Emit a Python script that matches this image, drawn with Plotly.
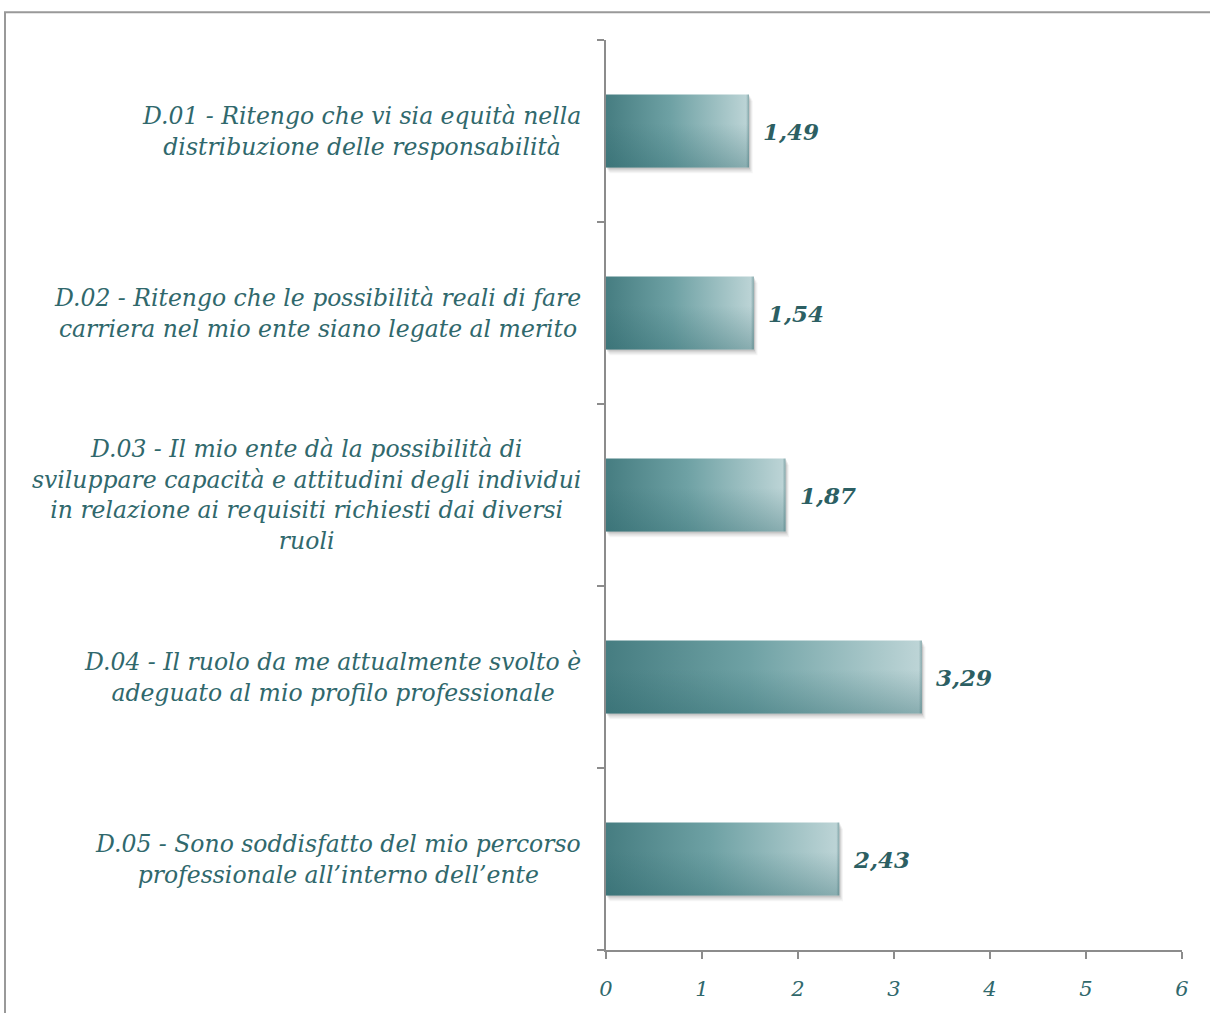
import plotly.graph_objects as go

# Survey items (line breaks as they should wrap) and mean scores
categories = [
    "D.01 - Ritengo che vi sia equità nella<br>distribuzione delle responsabilità",
    "D.02 - Ritengo che le possibilità reali di fare<br>carriera nel mio ente siano legate al merito",
    "D.03 - Il mio ente dà la possibilità di<br>sviluppare capacità e attitudini degli individui<br>in relazione ai requisiti richiesti dai diversi<br>ruoli",
    "D.04 - Il ruolo da me attualmente svolto è<br>adeguato al mio profilo professionale",
    "D.05 - Sono soddisfatto del mio percorso<br>professionale all’interno dell’ente",
]
scores = [1.49, 1.54, 1.87, 3.29, 2.43]
x_ticks = [0, 1, 2, 3, 4, 5, 6]

W, H = 1210, 1013
M_L, M_R, M_T, M_B = 606, 28, 40, 58
TEXT = "#30686c"
AXIS = "#8c8c8c"
SERIF = "DejaVu Serif"
HALF = 0.2          # half bar thickness in category units

px_x = 6 / (W - M_L - M_R)                # data units per pixel (x)
px_y = len(categories) / (H - M_T - M_B)  # data units per pixel (y)


def rect(x0, x1, y0, y1):
    return [x0, x1, x1, x0, x0], [y0, y0, y1, y1, y0]


fig = go.Figure()

for i, v in enumerate(scores):
    # soft drop shadow
    for k, op in [(6, 0.06), (4, 0.10), (2, 0.16)]:
        dx, dy = k * px_x * 0.6, k * px_y
        xs, ys = rect(dx, v + dx, i - HALF + dy, i + HALF + dy)
        fig.add_trace(go.Scatter(
            x=xs, y=ys, mode="lines", line=dict(width=0), fill="toself",
            fillcolor=f"rgba(60,60,60,{op})", hoverinfo="skip", showlegend=False,
        ))
    # gradient bar
    xs, ys = rect(0, v, i - HALF, i + HALF)
    fig.add_trace(go.Scatter(
        x=xs, y=ys, mode="lines", line=dict(width=0), fill="toself",
        fillgradient=dict(
            type="horizontal",
            colorscale=[[0, "#467d81"], [0.45, "#6ea1a4"], [0.85, "#a8c7c9"], [1, "#bed5d7"]],
        ),
        hovertemplate=f"{v:.2f}".replace(".", ",") + "<extra></extra>",
        showlegend=False,
    ))
    # slight darkening towards the lower edge
    fig.add_trace(go.Scatter(
        x=xs, y=ys, mode="lines", line=dict(width=0), fill="toself",
        fillgradient=dict(
            type="vertical",
            colorscale=[[0, "rgba(40,100,105,0.35)"], [0.6, "rgba(40,100,105,0)"], [1, "rgba(40,100,105,0)"]],
        ),
        hoverinfo="skip", showlegend=False,
    ))
    # darker rim along the bar end
    xs2, ys2 = rect(v - 3 * px_x, v, i - HALF, i + HALF)
    fig.add_trace(go.Scatter(
        x=xs2, y=ys2, mode="lines", line=dict(width=0), fill="toself",
        fillgradient=dict(
            type="horizontal",
            colorscale=[[0, "rgba(60,110,115,0)"], [1, "rgba(60,110,115,0.45)"]],
        ),
        hoverinfo="skip", showlegend=False,
    ))
    # value label
    fig.add_annotation(
        x=v, y=i, xref="x", yref="y", xanchor="left", yanchor="middle",
        xshift=12, showarrow=False,
        text=f"{v:.2f}".replace(".", ","),
        font=dict(family=SERIF, size=23, color="#2c5f63", weight="bold", style="italic"),
    )

# item labels: right-aligned block, lines centred within it
for i, label in enumerate(categories):
    fig.add_annotation(
        x=0, y=i, xref="paper", yref="y", xanchor="right", yanchor="middle",
        align="center", xshift=-23, showarrow=False,
        text=label,
        font=dict(family=SERIF, size=23.5, color=TEXT, style="italic"),
    )

# outer frame
fig.add_shape(type="rect", xref="paper", yref="paper",
              x0=(5 - M_L) / (W - M_L - M_R), x1=1.2,
              y0=-0.3, y1=(H - M_B - 12) / (H - M_T - M_B),
              line=dict(color="#999999", width=2), fillcolor="rgba(0,0,0,0)")

fig.update_layout(
    width=W, height=H,
    margin=dict(l=M_L, r=M_R, t=M_T, b=M_B),
    paper_bgcolor="white", plot_bgcolor="white",
    showlegend=False,
    xaxis=dict(
        range=[0, 6], tickvals=x_ticks, ticktext=[str(t) for t in x_ticks],
        showgrid=False, zeroline=False,
        showline=True, linecolor=AXIS, linewidth=2,
        ticks="outside", ticklen=7, tickcolor=AXIS, tickwidth=1.5,
        ticklabelstandoff=12,
        tickfont=dict(family=SERIF, size=21, color=TEXT, style="italic"),
        fixedrange=True,
    ),
    yaxis=dict(
        range=[len(categories) - 0.5, -0.5],
        tickvals=[k - 0.5 for k in range(len(categories) + 1)],
        showticklabels=False, showgrid=False, zeroline=False,
        showline=True, linecolor=AXIS, linewidth=2,
        ticks="outside", ticklen=7, tickcolor=AXIS, tickwidth=1.5,
        fixedrange=True,
    ),
)

fig.write_html("out.html")
